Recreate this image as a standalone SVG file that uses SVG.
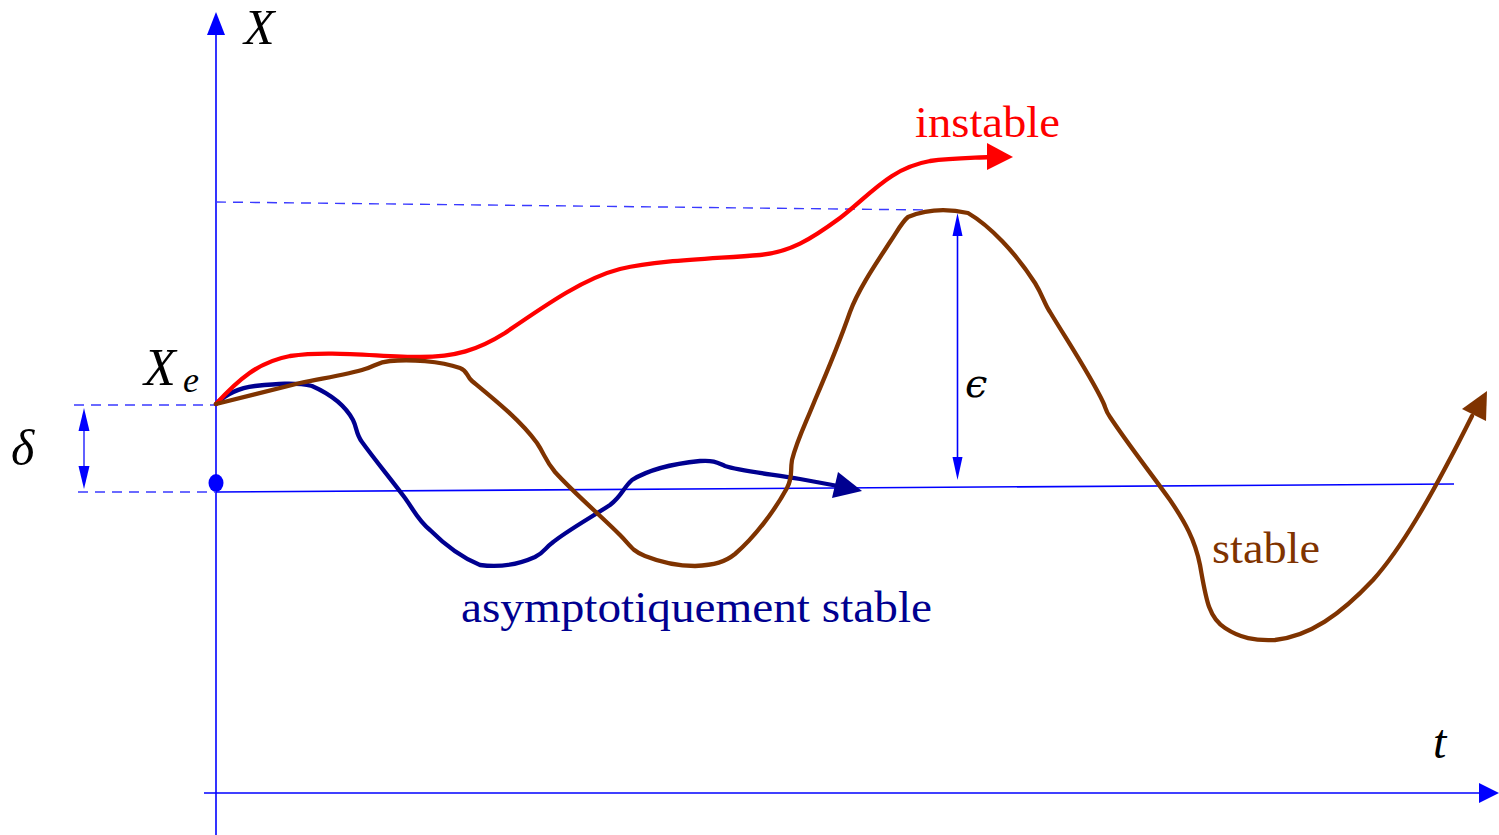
<svg xmlns="http://www.w3.org/2000/svg" width="1499" height="835" viewBox="0 0 1499 835">
<style>
.axis{stroke:#0000ff;stroke-width:1.6;fill:none}
.dash{stroke:#3a3aff;stroke-width:1.4;fill:none;stroke-dasharray:10,7}
.curve{fill:none;stroke-width:4.3;stroke-linejoin:round;stroke-linecap:round}
.math{font-family:"Liberation Serif","DejaVu Serif",serif;font-style:italic;fill:#000}
.lbl{font-family:"Liberation Serif","DejaVu Serif",serif;font-size:44px}
</style>
<rect width="1499" height="835" fill="#fff"/>
<g id="axes">
<line class="axis" x1="216" y1="835" x2="216" y2="32"/>
<polygon points="216,12 207,35 225,35" fill="#0000ff"/>
<line class="axis" x1="204" y1="793" x2="1482" y2="793"/>
<polygon points="1499,793 1479,783 1479,803" fill="#0000ff"/>
<line class="axis" x1="216" y1="492" x2="1454" y2="484"/>
<ellipse cx="216" cy="483" rx="7.5" ry="9" fill="#0000ff"/>
</g>
<g id="guides">
<line class="dash" x1="74" y1="405" x2="216" y2="405"/>
<line class="dash" x1="78" y1="492" x2="216" y2="492"/>
<line class="dash" x1="216" y1="202" x2="930" y2="210"/>
</g>
<g id="connectors">
<g id="delta-arrow">
<line x1="84" y1="425" x2="84" y2="472" stroke="#3a3aff" stroke-width="1.6"/>
<polygon points="84,408 78.5,431 89.5,431" fill="#0000ff"/>
<polygon points="84,489 78.5,466 89.5,466" fill="#0000ff"/>
</g>
<g id="eps-arrow">
<line x1="957.5" y1="230" x2="957.5" y2="462" stroke="#0000ff" stroke-width="1.6"/>
<polygon points="957.5,213 952.5,236 962.5,236" fill="#0000ff"/>
<polygon points="957.5,480 952.5,457 962.5,457" fill="#0000ff"/>
</g>
</g>
<g id="curve-asymptotic">
<path class="curve" stroke="#000090" d="M216,404 C225,395 238,388 255,386 C275,384 295,382 312,386 C330,394 345,405 353,420 C357,428 356,434 362,442 C375,460 390,478 405,498 C415,512 418,520 430,530 C445,545 460,557 480,565 C495,567 515,566 535,557 C545,552 545,548 552,543 C565,532 590,518 610,505 C622,496 623,488 632,480 C648,470 670,464 700,461 C715,460 718,463 725,466 C740,471 770,474 800,479 L838,486"/>
<polygon points="862,491 838,472 832,498" fill="#000090"/>
</g>
<g id="curve-unstable">
<path class="curve" stroke="#ff0000" d="M216,404 C238,380 258,362 290,356 C330,350 380,357 420,357 C455,357 478,350 505,333 C550,302 585,278 620,269 C660,260 710,259 760,255 C790,252 810,240 840,218 C870,195 890,168 930,161 C950,158 970,158 990,157"/>
<polygon points="1013,157 987,143 987,170" fill="#ff0000"/>
</g>
<g id="curve-stable">
<path class="curve" stroke="#7f3300" d="M216,404 L300,383 C330,377 350,374 365,369 C375,366 378,362 390,361 C410,359 440,361 460,368 C468,371 466,376 472,381 C495,400 520,420 537,443 C545,455 545,460 555,472 C575,494 600,515 620,535 C630,545 632,551 645,556 C660,562 675,566 695,566 C715,565 725,562 735,554 C755,537 775,510 787,488 C793,477 790,472 792,460 C797,440 805,425 815,400 C830,365 842,335 850,312 C858,290 875,265 890,242 C898,230 902,222 908,217 C925,210 945,208 968,213 C990,226 1015,252 1035,283 C1043,296 1044,303 1050,312 C1070,345 1090,375 1103,402 C1106,408 1105,410 1110,417 C1130,447 1150,472 1170,500 C1185,522 1195,540 1200,565 C1206,598 1208,617 1225,628 C1240,638 1255,641 1275,640 C1310,636 1340,615 1373,580 C1400,550 1430,500 1472,416"/>
<polygon points="1487,391 1462,409 1486,421" fill="#7f3300"/>
</g>
<g id="labels">
<text class="math" x="244" y="44" font-size="50">X</text>
<text class="math" x="144" y="385" font-size="52">X</text>
<text class="math" x="183" y="392" font-size="36">e</text>
<text class="math" x="11" y="465" font-size="50">δ</text>
<text class="math" x="965" y="397" font-size="40" style="font-family:'DejaVu Serif','Liberation Serif',serif">ϵ</text>
<text class="math" x="1433" y="758" font-size="48">t</text>
<text class="lbl" x="915" y="137" fill="#ff0000" textLength="145" lengthAdjust="spacingAndGlyphs">instable</text>
<text class="lbl" x="1212" y="563" fill="#7f3300" textLength="108" lengthAdjust="spacingAndGlyphs">stable</text>
<text class="lbl" x="461" y="622" fill="#000090" textLength="471" lengthAdjust="spacingAndGlyphs">asymptotiquement stable</text>
</g>
</svg>
